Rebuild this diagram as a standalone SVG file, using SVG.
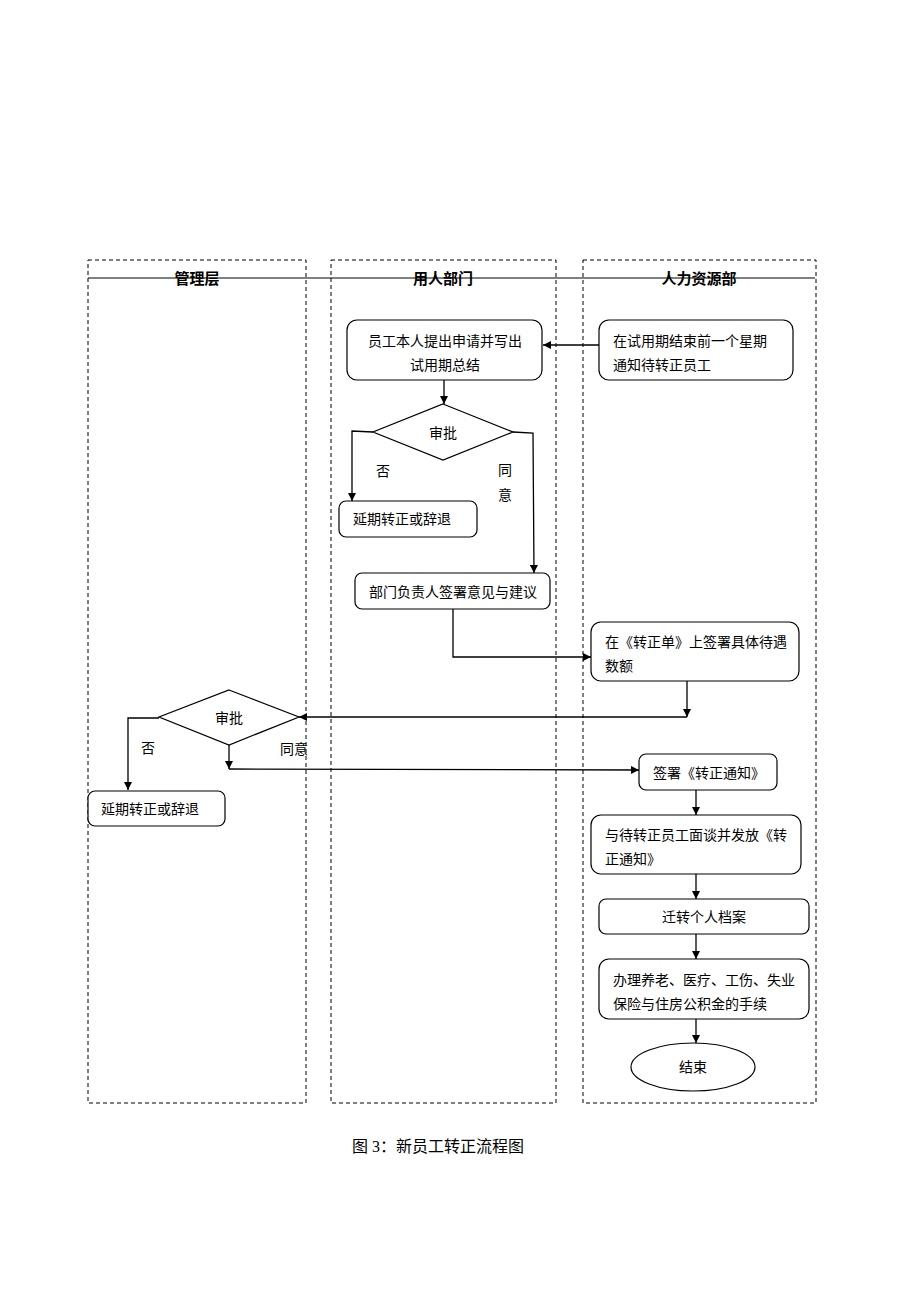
<svg xmlns="http://www.w3.org/2000/svg" width="920" height="1302" viewBox="0 0 920 1302">
<style>
.lane{fill:none;stroke:#000;stroke-width:1;stroke-dasharray:4,3}
.box{fill:#fff;stroke:#000;stroke-width:1.2}
.t{font-family:"Liberation Serif","Noto Sans CJK SC",serif;font-size:14px;fill:#000}
.h{font-family:"Liberation Serif","Noto Sans CJK SC",serif;font-size:15px;font-weight:bold;fill:#000;text-anchor:middle}
.c{text-anchor:middle}
.ln{fill:none;stroke:#000;stroke-width:1.3}
</style>
<defs>
<marker id="ah" viewBox="0 0 10 10" refX="10" refY="5" markerWidth="8" markerHeight="8" markerUnits="userSpaceOnUse" orient="auto">
<path d="M0,0 L10,5 L0,10 z" fill="#000"/>
</marker>
</defs>
<rect width="920" height="1302" fill="#fff"/>
<g id="lanes">
<rect class="lane" x="88" y="260" width="218" height="843"/>
<rect class="lane" x="331" y="260" width="225" height="843"/>
<rect class="lane" x="583" y="260" width="233" height="843"/>
<line x1="88" y1="278" x2="815" y2="278" stroke="#000" stroke-width="1"/>
<text class="h" x="197" y="284">管理层</text>
<text class="h" x="443" y="284">用人部门</text>
<text class="h" x="699" y="284">人力资源部</text>
</g>
<g id="connectors">
<line class="ln" x1="599" y1="345" x2="543" y2="345" marker-end="url(#ah)"/>
<line class="ln" x1="444" y1="380" x2="444" y2="404" marker-end="url(#ah)"/>
<polyline class="ln" points="373,432 352,431 352,501" marker-end="url(#ah)"/>
<polyline class="ln" points="513,432 533,433 534,573" marker-end="url(#ah)"/>
<polyline class="ln" points="453,609 453,657 591,657" marker-end="url(#ah)"/>
<line class="ln" x1="687" y1="681" x2="687" y2="717" marker-end="url(#ah)"/>
<line class="ln" x1="687" y1="717" x2="299" y2="717" marker-end="url(#ah)"/>
<polyline class="ln" points="159,718 128,718 128,790" marker-end="url(#ah)"/>
<line class="ln" x1="229" y1="745" x2="229" y2="769" marker-end="url(#ah)"/>
<line class="ln" x1="229" y1="769" x2="639" y2="770" marker-end="url(#ah)"/>
<line class="ln" x1="696" y1="790" x2="696" y2="815" marker-end="url(#ah)"/>
<line class="ln" x1="696" y1="874" x2="696" y2="899" marker-end="url(#ah)"/>
<line class="ln" x1="696" y1="934" x2="696" y2="959" marker-end="url(#ah)"/>
<line class="ln" x1="696" y1="1019" x2="696" y2="1043" marker-end="url(#ah)"/>
<text class="t" x="376" y="476">否</text>
<text class="t" x="498" y="475">同</text>
<text class="t" x="498" y="500">意</text>
<text class="t" x="141" y="753">否</text>
<text class="t" x="280" y="754">同意</text>
</g>
<g id="n1">
<rect class="box" x="347" y="320" width="195" height="60" rx="10"/>
<text class="t" x="368" y="346">员工本人提出申请并写出</text>
<text class="t" x="410" y="370">试用期总结</text>
</g>
<g id="n2">
<rect class="box" x="599" y="320" width="194" height="60" rx="10"/>
<text class="t" x="613" y="346">在试用期结束前一个星期</text>
<text class="t" x="613" y="370">通知待转正员工</text>
</g>
<g id="d1">
<polygon class="box" points="443,404 513,432 443,460 373,432"/>
<text class="t c" x="443" y="438">审批</text>
</g>
<g id="n3">
<rect class="box" x="339" y="501" width="138" height="36" rx="7"/>
<text class="t" x="353" y="524">延期转正或辞退</text>
</g>
<g id="n4">
<rect class="box" x="355" y="573" width="195" height="36" rx="7"/>
<text class="t" x="369" y="597">部门负责人签署意见与建议</text>
</g>
<g id="n5">
<rect class="box" x="591" y="622" width="208" height="59" rx="10"/>
<text class="t" x="605" y="647">在《转正单》上签署具体待遇</text>
<text class="t" x="605" y="671">数额</text>
</g>
<g id="d2">
<polygon class="box" points="229,690 299,717 229,745 159,717"/>
<text class="t c" x="229" y="723">审批</text>
</g>
<g id="n6">
<rect class="box" x="88" y="791" width="137" height="35" rx="7"/>
<text class="t" x="101" y="814">延期转正或辞退</text>
</g>
<g id="n7">
<rect class="box" x="639" y="754" width="138" height="36" rx="7"/>
<text class="t" x="653" y="778">签署《转正通知》</text>
</g>
<g id="n8">
<rect class="box" x="591" y="815" width="210" height="59" rx="10"/>
<text class="t" x="605" y="840">与待转正员工面谈并发放《转</text>
<text class="t" x="605" y="864">正通知》</text>
</g>
<g id="n9">
<rect class="box" x="599" y="899" width="210" height="35" rx="7"/>
<text class="t c" x="704" y="922">迁转个人档案</text>
</g>
<g id="n10">
<rect class="box" x="599" y="959" width="210" height="60" rx="10"/>
<text class="t" x="613" y="985">办理养老、医疗、工伤、失业</text>
<text class="t" x="613" y="1009">保险与住房公积金的手续</text>
</g>
<g id="n11">
<ellipse class="box" cx="693" cy="1067" rx="62" ry="24"/>
<text class="t c" x="693" y="1072">结束</text>
</g>
<text class="t" x="352" y="1152" style="font-size:16px">图 3：新员工转正流程图</text>
</svg>
